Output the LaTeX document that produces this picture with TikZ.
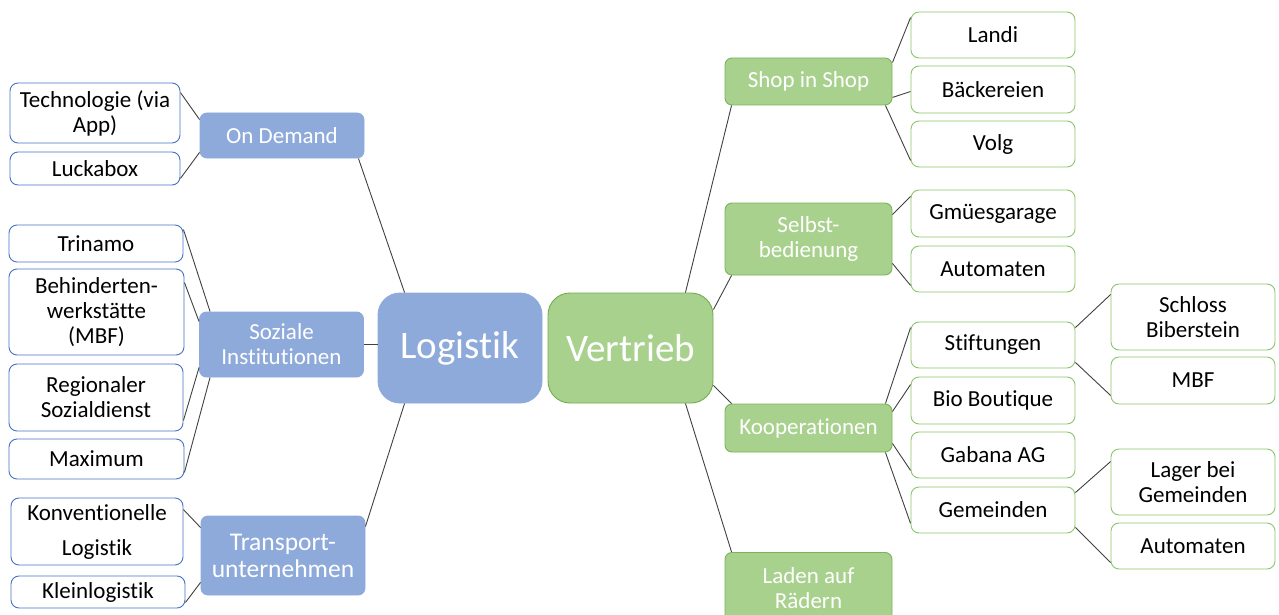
\documentclass[tikz,border=0pt]{standalone}
\usepackage{fontspec}
\setmainfont{Carlito}[Ligatures={NoCommon}]
\usetikzlibrary{calc}
\definecolor{bluefill}{HTML}{8EAADB}
\definecolor{blueline}{HTML}{4472C4}
\definecolor{greenfill}{HTML}{A9D18E}
\definecolor{greenline}{HTML}{70AD47}
\definecolor{greenleaf}{HTML}{8CC66A}
\definecolor{conn}{HTML}{404040}
\tikzset{
  box/.style={rectangle, inner sep=0pt, align=center, line width=0.9pt},
  leafb/.style={box, draw=blueline, fill=white, rounded corners=8pt, text=black, font=\fontsize{23}{25}\selectfont, minimum width=172pt},
  leafg/.style={box, draw=greenleaf, fill=white, rounded corners=8pt, text=black, font=\fontsize{23}{25}\selectfont, minimum width=164pt},
  midb/.style={box, draw=bluefill, fill=bluefill, rounded corners=7pt, text=white, font=\fontsize{23}{25}\selectfont, minimum width=164pt},
  midg/.style={box, draw=greenline!80!greenfill, fill=greenfill, rounded corners=7pt, text=white, font=\fontsize{23}{25}\selectfont, minimum width=167pt},
  mainb/.style={box, draw=bluefill, fill=bluefill, rounded corners=22pt, text=white, font=\fontsize{39}{44}\selectfont, minimum width=164pt, minimum height=110pt},
  maing/.style={box, draw=greenline, fill=greenfill, rounded corners=22pt, text=white, font=\fontsize{39}{44}\selectfont, minimum width=165pt, minimum height=110pt},
  link/.style={draw=conn, line width=0.9pt}
}
\begin{document}
\begin{tikzpicture}[x=1pt,y=-1pt]
\useasboundingbox (0,0) rectangle (1279,615);
% main nodes
\node[mainb] (logi) at (460,348) {Logistik};
\node[maing] (vert) at (630.5,348) {Vertrieb};
% left mid nodes
\node[midb, minimum height=45pt] (ondem) at (282,135.5) {On Demand};
\node[midb, minimum height=65pt] (soz) at (281.5,344.5) {Soziale\\Institutionen};
\node[midb, minimum height=79pt, font=\fontsize{25.5}{27}\selectfont] (trans) at (283,555.5) {Transport-\\unternehmen};
% left leaves
\node[leafb, minimum width=170pt, minimum height=60pt] (tech) at (95,113) {Technologie (via\\App)};
\node[leafb, minimum width=170pt, minimum height=33pt] (lucka) at (95,168.5) {Luckabox};
\node[leafb, minimum width=174pt, minimum height=37pt] (trin) at (96,243.5) {Trinamo};
\node[leafb, minimum width=175pt, minimum height=86pt] (behind) at (96.5,312) {Behinderten-\\werkstätte\\(MBF)};
\node[leafb, minimum width=174pt, minimum height=67pt] (regio) at (96,397.5) {Regionaler\\Sozialdienst};
\node[leafb, minimum width=175pt, minimum height=40pt] (maxi) at (96.5,459) {Maximum};
\node[leafb, minimum width=172pt, minimum height=67pt] (konv) at (97,531.5) {Konventionelle\\[10pt]Logistik};
\node[leafb, minimum width=174pt, minimum height=32pt] (klein) at (98,592) {Kleinlogistik};
% right mid nodes
\node[midg, minimum height=47pt] (shop) at (808.5,81.5) {Shop in Shop};
\node[midg, minimum height=72pt] (selbst) at (808.5,239) {Selbst-\\bedienung};
\node[midg, minimum height=48pt] (koop) at (808.5,428) {Kooperationen};
\node[midg, minimum height=72pt, anchor=north] (laden) at (808.5,552) {Laden auf\\Rädern};
% right leaves
\node[leafg, minimum height=46pt] (landi) at (993,35) {Landi};
\node[leafg, minimum height=47pt] (baeck) at (993,89.5) {Bäckereien};
\node[leafg, minimum height=46pt] (volg) at (993,144) {Volg};
\node[leafg, minimum height=47pt] (gmues) at (993,213.5) {Gmüesgarage};
\node[leafg, minimum height=46pt] (autoa) at (993,269) {Automaten};
\node[leafg, minimum height=46pt] (stift) at (993,345) {Stiftungen};
\node[leafg, minimum height=47pt] (bio) at (993,400.5) {Bio Boutique};
\node[leafg, minimum height=46pt] (gab) at (993,455) {Gabana AG};
\node[leafg, minimum height=46pt] (gem) at (993,510) {Gemeinden};
\node[leafg, minimum height=66pt] (schloss) at (1193,317) {Schloss\\Biberstein};
\node[leafg, minimum height=47pt] (mbf) at (1193,380.5) {MBF};
\node[leafg, minimum height=66pt] (lager) at (1193,482) {Lager bei\\Gemeinden};
\node[leafg, minimum height=46pt] (autob) at (1193,546) {Automaten};
% connectors left
\draw[link] ($(logi.north west)+(27,0)$) -- ($(ondem.south east)+(-6,0)$);
\draw[link] (soz.east) -- (soz.east -| logi.west);
\draw[link] ($(logi.south west)+(27,0)$) -- ($(trans.north east)+(0,11)$);
\draw[link] ($(ondem.north west)+(0,7)$) -- ($(tech.north east)+(0,10)$);
\draw[link] ($(ondem.south west)+(0,-6)$) -- ($(lucka.south east)+(0,-7)$);
\draw[link] ($(soz.north west)+(11,0)$) -- ($(trin.north east)+(0,5)$);
\draw[link] ($(soz.north west)+(0,10)$) -- ($(behind.north east)+(0,14)$);
\draw[link] ($(soz.south west)+(0,-10)$) -- ($(regio.south east)+(0,-11)$);
\draw[link] ($(soz.south west)+(11,0)$) -- ($(maxi.south east)+(0,-7)$);
\draw[link] ($(trans.north west)+(0,12)$) -- ($(konv.north east)+(0,12)$);
\draw[link] ($(trans.south west)+(0,-13)$) -- ($(klein.south east)+(0,-6)$);
% connectors right
\draw[link] ($(vert.north east)+(-28,0)$) -- ($(shop.south west)+(7,0)$);
\draw[link] ($(vert.north east)+(0,17)$) -- ($(selbst.south west)+(7,0)$);
\draw[link] ($(vert.south east)+(0,-18)$) -- ($(koop.north west)+(7,0)$);
\draw[link] ($(vert.south east)+(-28,0)$) -- ($(laden.north west)+(7,0)$);
\draw[link] ($(shop.north east)+(0,5)$) -- ($(landi.north west)+(0,6)$);
\draw[link] ($(shop.south east)+(0,-8)$) -- ($(baeck.west)+(0,2)$);
\draw[link] ($(shop.south east)+(-7,0)$) -- ($(volg.south west)+(0,-7)$);
\draw[link] ($(selbst.north east)+(0,12)$) -- ($(gmues.north west)+(0,7)$);
\draw[link] ($(selbst.south east)+(0,-12)$) -- ($(autoa.south west)+(0,-7)$);
\draw[link] ($(koop.north east)+(-7,0)$) -- ($(stift.north west)+(0,6)$);
\draw[link] ($(koop.north east)+(0,8)$) -- ($(bio.north west)+(0,8)$);
\draw[link] ($(koop.south east)+(0,-9)$) -- ($(gab.south west)+(0,-8)$);
\draw[link] ($(koop.south east)+(-7,0)$) -- ($(gem.south west)+(0,-10)$);
\draw[link] ($(stift.north east)+(0,6)$) -- ($(schloss.north west)+(0,11)$);
\draw[link] ($(stift.south east)+(0,-6)$) -- ($(mbf.south west)+(0,-9)$);
\draw[link] ($(gem.north east)+(0,6)$) -- ($(lager.north west)+(0,13)$);
\draw[link] ($(gem.south east)+(0,-6)$) -- ($(autob.south west)+(0,-7)$);
\end{tikzpicture}
\end{document}
